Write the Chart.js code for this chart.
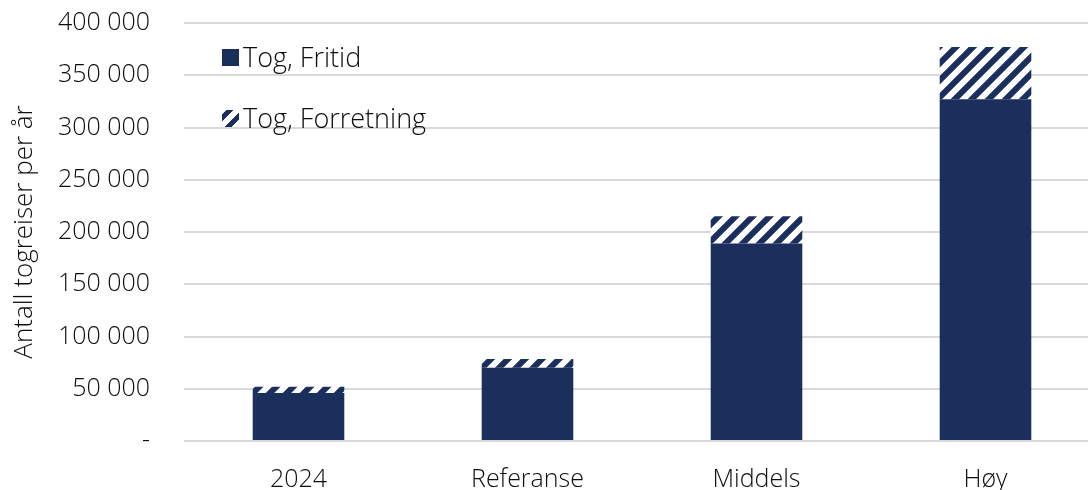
<!DOCTYPE html>
<html>
<head>
<meta charset="utf-8">
<script src="https://cdn.jsdelivr.net/npm/chart.js@4"></script>
<style>
  html, body { margin: 0; padding: 0; background: #fff; }
  #wrap { position: relative; width: 1088px; height: 490px; overflow: hidden; }
  .legend { position: absolute; left: 222px; height: 34px; line-height: 34px; font-family: "Open Sans", sans-serif; font-weight: 300; font-size: 27px; color: #0d0d0d; display: flex; align-items: center; }
  .sw { width: 17px; height: 17px; margin-right: 4px; }
</style>
</head>
<body>
<div id="wrap">
  <!-- canvas a bit wider than the window: the plot runs off the right edge like the reference -->
  <canvas id="c" width="1100" height="490"></canvas>
  <div class="legend" style="top: 40px;"><span class="sw" style="background:#1b2f5c"></span>Tog, Fritid</div>
  <div class="legend" style="top: 101px;"><span class="sw" style="background: repeating-linear-gradient(135deg, #fff 0 3px, #1b2f5c 3px 8px, #fff 8px 11px);"></span>Tog, Forretning</div>
</div>
<script>
// Data
const categories = ['2024', 'Referanse', 'Middels', 'Høy'];
const fritid = [46000, 70000, 189000, 327000];
const forretning = [6000, 8500, 26000, 50000];
const yTicks = [0, 50000, 100000, 150000, 200000, 250000, 300000, 350000, 400000];

const navy = '#1b2f5c';
const textColor = '#0d0d0d';
const font = { family: '"Open Sans", sans-serif', size: 25, weight: 300 };

// diagonal hatch pattern
function makeHatch() {
    const s = 17;
    const pc = document.createElement('canvas');
    pc.width = s; pc.height = s;
    const g = pc.getContext('2d');
    g.fillStyle = '#fff';
    g.fillRect(0, 0, s, s);
    g.strokeStyle = navy;
    g.lineWidth = 6;
    g.beginPath();
    g.moveTo(-s / 2, s / 2); g.lineTo(s / 2, -s / 2);
    g.moveTo(0, s); g.lineTo(s, 0);
    g.moveTo(s / 2, s * 1.5); g.lineTo(s * 1.5, s / 2);
    g.stroke();
    return g.createPattern(pc, 'repeat');
}

function fmt(v) {
    if (v === 0) return '-';
    return String(v).replace(/\B(?=(\d{3})+(?!\d))/g, ' ');
}

const ctx = document.getElementById('c').getContext('2d');
new Chart(ctx, {
    type: 'bar',
    data: {
        labels: categories,
        datasets: [
            { label: 'Tog, Fritid', data: fritid, backgroundColor: navy },
            { label: 'Tog, Forretning', data: forretning, backgroundColor: makeHatch() }
        ]
    },
    options: {
        responsive: false,
        animation: false,
        layout: { padding: { top: 23, right: 0, left: 0, bottom: 0 } },
        datasets: { bar: { barPercentage: 0.4, categoryPercentage: 1 } },
        plugins: { legend: { display: false }, tooltip: { enabled: false } },
        scales: {
            x: {
                stacked: true,
                grid: { display: false },
                border: { display: false },
                ticks: { color: textColor, font: font, padding: 16 },
                afterFit: function(axis) {
                    axis.height = 49;
                    axis.paddingLeft = 0;
                    axis.paddingRight = 0;
                }
            },
            y: {
                stacked: true,
                min: 0,
                max: 400000,
                afterBuildTicks: function(axis) { axis.ticks = yTicks.map(v => ({ value: v })); },
                grid: { color: '#d9d9d9', lineWidth: 2, drawTicks: false },
                border: { display: false },
                ticks: { color: textColor, font: font, padding: 34, callback: v => fmt(v) },
                title: { display: true, text: 'Antall togreiser per år', color: textColor, font: { family: font.family, size: 26, weight: 300 }, padding: { top: 9, bottom: 0 } },
                afterFit: function(axis) {
                    axis.width = 184;
                    axis.paddingTop = 0;
                    axis.paddingBottom = 0;
                }
            }
        }
    }
});
</script>
</body>
</html>
